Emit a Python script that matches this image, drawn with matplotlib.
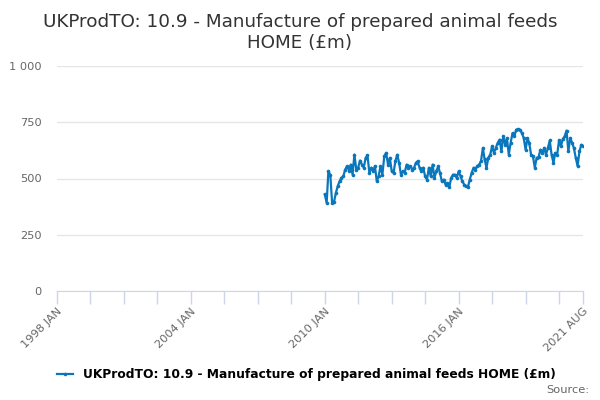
import pandas as pd
import matplotlib
matplotlib.use("Agg")
import matplotlib.pyplot as plt
from matplotlib.ticker import FuncFormatter

TITLE = "UKProdTO: 10.9 - Manufacture of prepared animal feeds\nHOME (£m)"
SERIES_NAME = "UKProdTO: 10.9 - Manufacture of prepared animal feeds HOME (£m)"
START = "2010-01-01"

# monthly values, Jan 2010 .. Aug 2021
values = [
    429, 392, 532, 517, 392, 396, 435, 466, 488, 503, 510, 540,
    555, 535, 562, 517, 606, 540, 548, 580, 562, 548, 592, 603,
    525, 548, 532, 555, 488, 510, 555, 517, 599, 614,
    562, 592, 532, 525, 577, 606, 570, 517, 532, 525, 562, 548,
    555, 540, 548, 570, 577, 548, 532, 548, 510, 495, 548, 510,
    562, 503, 532, 555, 525, 488, 495, 473, 480, 461, 503, 517,
    517, 503, 532, 510, 488, 473, 466, 461, 495, 525,
    548, 540, 555, 562, 577, 636, 585, 548, 592, 606,
    643, 614, 636, 658, 673, 621, 687, 650, 680, 606,
    658, 702, 687, 717, 720,
    717, 702, 680, 628, 680, 658, 606, 599, 548, 592,
    595, 628, 614, 636, 606, 636, 669, 606, 570, 614,
    606, 669, 643, 676, 687, 713, 621, 680, 658, 636,
    592, 555, 621, 650, 643,
]
dates = pd.date_range(START, periods=len(values), freq="MS")

x_ticks = pd.date_range("1998-01-01", "2020-07-01", freq="18MS").append(
    pd.DatetimeIndex(["2021-08-01"]))
x_labels = {"1998-01": "1998 JAN", "2004-01": "2004 JAN", "2010-01": "2010 JAN",
            "2016-01": "2016 JAN", "2021-08": "2021 AUG"}
y_ticks = [0, 250, 500, 750, 1000]

LINE = "#0a77bd"
GRID = "#e6e6e6"
AXIS = "#ccd6eb"
LABEL = "#666666"

fig = plt.figure(figsize=(6, 4), dpi=100)
ax = fig.add_axes([0.095, 0.2725, 0.877, 0.5625])

line, = ax.plot(dates, values, color=LINE, lw=1.6, marker="o", ms=2.6,
                markeredgewidth=0)

ax.set_xlim(pd.Timestamp("1998-01-01"), pd.Timestamp("2021-08-01"))
ax.set_ylim(0, 1000)
ax.set_yticks(y_ticks)
ax.yaxis.set_major_formatter(FuncFormatter(lambda v, p: f"{int(v):,}".replace(",", " ")))
ax.grid(axis="y", color=GRID, lw=1)
ax.set_axisbelow(True)

ax.set_xticks(x_ticks)
ax.set_xticklabels([x_labels.get(t.strftime("%Y-%m"), "") for t in x_ticks],
                   rotation=45, ha="right", rotation_mode="anchor")

for s in ["top", "right", "left"]:
    ax.spines[s].set_visible(False)
ax.spines["bottom"].set_color(AXIS)
ax.tick_params(axis="x", colors=AXIS, length=9, width=1, labelcolor=LABEL,
               labelsize=8.2, pad=2)
ax.tick_params(axis="y", length=0, labelcolor=LABEL, labelsize=8.2, pad=11)

fig.suptitle(TITLE, x=0.5, y=0.968, fontsize=13.2, color="#333333",
             linespacing=1.25)

fig.legend([line], [SERIES_NAME], loc="center", bbox_to_anchor=(0.51, 0.064),
           frameon=False, handlelength=1.3,
           prop={"weight": "bold", "size": 8.85})
fig.text(0.982, 0.025, "Source:", ha="right", va="center", fontsize=8.2,
         color=LABEL)

fig.savefig("out.png", dpi=100)
